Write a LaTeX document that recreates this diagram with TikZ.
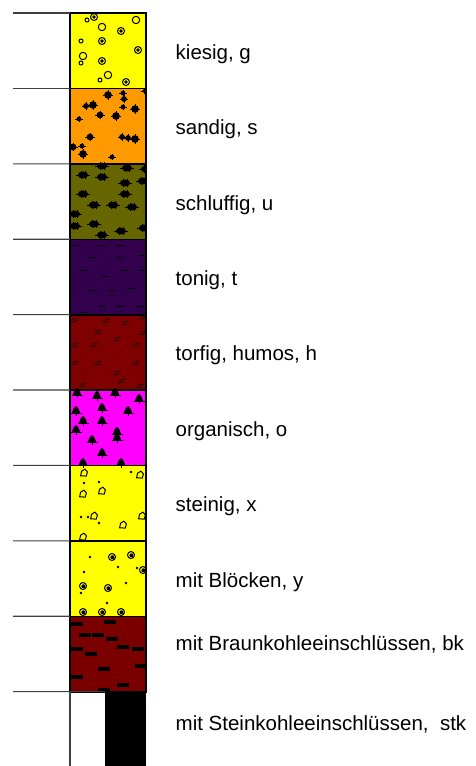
\documentclass[tikz,border=0pt]{standalone}
\usepackage{fontspec}
\setmainfont{Liberation Sans}
\definecolor{cKies}{HTML}{FFFF00}
\definecolor{cSand}{HTML}{FF9900}
\definecolor{cSchluff}{HTML}{666600}
\definecolor{cTon}{HTML}{33004D}
\definecolor{cTorf}{HTML}{7F0000}
\definecolor{cOrg}{HTML}{FF00FF}
\definecolor{cBk}{HTML}{7A0000}
\begin{document}
\begin{tikzpicture}[x=1pt,y=-1pt,
  layer/.style={inner sep=0pt,minimum width=75.5pt,minimum height=75.4pt,anchor=north west},
  border/.style={draw=black,line width=1.3pt},
  lab/.style={anchor=base west,inner sep=0pt,font=\fontsize{20.5}{24}\selectfont},
  sep/.style={draw=black!75,line width=1.1pt},
  sym/.style={line width=1pt}]
\useasboundingbox (0,0) rectangle (476,766);

% layers
\node[layer,fill=cKies] (r1) at (70,13) {};
\node[layer,fill=cSand] (r2) at (70,88.4) {};
\node[layer,fill=cSchluff] (r3) at (70,163.8) {};
\node[layer,fill=cTon] (r4) at (70,239.2) {};
\node[layer,fill=cTorf] (r5) at (70,314.6) {};
\node[layer,fill=cOrg] (r6) at (70,390) {};
\node[layer,fill=cKies] (r7) at (70,465.4) {};
\node[layer,fill=cKies] (r8) at (70,540.8) {};
\node[layer,fill=cBk] (r9) at (70,616.2) {};
\node[inner sep=0pt,minimum width=40.5pt,minimum height=74.4pt,anchor=north west,fill=black] (r10) at (105,691.6) {};

% patterns
\begin{scope}
\clip (r1.north west) rectangle (r9.south east);
% kiesig
\foreach \x/\y/\r in {87/20/2,136/20/3.7,102/27/3.7,81/41/2,83/56/3.7,81/63/2,108/75/3.7,100/80/2}
  \draw[sym] (\x,\y) circle (\r);
\foreach \x/\y in {94/17,121/31,102/41,138/50,102/61,126/82}
  {\draw[sym] (\x,\y) circle (3.5); \fill (\x,\y) circle (1.9);}
% sandig
\foreach \x/\y/\r in {108/95/3.8,123/93/2.4,124/99/2.9,144/91/1.8,93/105/3.8,86/106/2.9,123/107/2.4,135/109/3.8,100/115/3.4,116/116/3.8,79/119/2.4,90/137/3.4,122/137/2.9,128/138/2.9,135/139/3.8,73/147/3.4,82/146/2.4,83/154/3.8,112/157/2.4}
  {\fill (\x,\y) circle (\r);
   \draw[line width=0.6pt] ({\x-\r-1.2},\y) -- ({\x+\r+1.2},\y);
   \draw[line width=0.6pt] (\x,{\y-\r-0.8}) -- (\x,{\y+\r+0.8});}
% schluffig
\foreach \x/\y in {102/166,127/168,146/169,83/175,102/177,125/183,143/181,83/194,125/194,94/205,113/205,132/207,75/214,75/226,94/224,121/231,102/235,144/228}
  {\fill (\x,\y) ellipse [x radius=5.2, y radius=3.4];
   \draw[line width=0.6pt] ({\x-6.6},\y) -- ({\x+6.6},\y);
   \draw[line width=0.6pt] ({\x-2},{\y-4.2}) -- ({\x-2},{\y+4.2});
   \draw[line width=0.6pt] ({\x+2},{\y-4.2}) -- ({\x+2},{\y+4.2});}
% tonig
\foreach \x/\y in {75/245,102/245,121/245,142/255,93/257,121/257,83/270,125/270,143/270,106/276,93/290,112/290,131/288,102/306,121/306,140/306,83/312}
  \draw[line width=0.8pt] ({\x-3.8},\y) -- ({\x+3.8},\y);
% torfig
\foreach \x/\y in {75/320,106/321,125/323,143/317,98/332,143/333,117/339,75/345,94/345,136/345,98/363,75/363,136/363,117/373,122/381,83/385,140/386}
  {\draw[line width=0.7pt] ({\x-2.5},{\y-0.6}) -- ({\x+3.5},{\y-1.9});
   \draw[line width=0.7pt] ({\x-3.5},{\y+1.9}) -- ({\x+2.5},{\y+0.6});}
% organisch
\foreach \x/\y in {77/393,97/396,115/393,139/399,102/408,76/411,128/411,83/421,102/421,76/430,117/432,117/438,92/440,102/453,83/463,121/463}
  {\fill ({\x-4.3},{\y+2.5}) .. controls ({\x-3.2},{\y-1}) and ({\x-1.6},{\y-4.8}) .. (\x,{\y-4.8})
      .. controls ({\x+1.6},{\y-4.8}) and ({\x+3.2},{\y-1}) .. ({\x+4.3},{\y+2.5}) -- cycle;
   \draw[line width=0.6pt] ({\x-5.5},{\y+2.5}) -- ({\x+5.5},{\y+2.5});
   \draw[line width=0.6pt] (\x,{\y+2.5}) -- (\x,{\y+4.5});}
% steinig
\foreach \x/\y in {84/473,140/475,83/494,102/491,94/516,142/516,123/525,83/537}
  \draw[line width=1pt,line join=round] ({\x-3.4},{\y+2.8}) -- ({\x-2.5},{\y-1.7}) -- ({\x+0.9},{\y-3.9}) -- ({\x+3.4},{\y-1.1}) -- ({\x+2.3},{\y+3.1}) -- cycle;
\foreach \x/\y in {131/472,84/483,99/482,81/517,88/517,99/523}
  \fill (\x,\y) circle (1.3);
% mit Bloecken
\foreach \x/\y in {112/557,131/555,143/570,83/586,108/588,83/612,102/612,121/612}
  {\draw[line width=1pt] (\x,\y) circle (3.5);
   \fill ({\x+0.4},{\y+0.3}) circle (2);}
\foreach \x/\y in {90/557,118/567,137/568,84/572,81/593,126/583,107/603}
  \fill (\x,\y) circle (1.3);
% Braunkohle
\foreach \x/\y in {77/624,110/622,85/635,98/635,112/639,77/649,91/654,123/647,138/649,104/669,141/666,77/677,123/685,104/690}
  \fill ({\x-6.2},{\y-1.8}) rectangle ({\x+6.2},{\y+1.8});
\end{scope}

% borders
\foreach \i in {1,...,9}
  \draw[border] (r\i.north west) rectangle (r\i.south east);
\draw[sep] (r9.south west) -- (70,766) coordinate (bot);

% separator lines
\foreach \i in {1,...,10}
  \draw[sep] (13,{13+75.4*(\i-1)}) coordinate (s\i) -- (r\i.north west);

% labels
\node[lab] (l1) at (175.5,59.3) {kiesig, g};
\node[lab] (l2) at (175.5,134.7) {sandig, s};
\node[lab] (l3) at (175.5,210.1) {schluffig, u};
\node[lab] (l4) at (175.5,285.5) {tonig, t};
\node[lab] (l5) at (175.5,360.9) {torfig, humos, h};
\node[lab] (l6) at (175.5,436.3) {organisch, o};
\node[lab] (l7) at (175.5,511.7) {steinig, x};
\node[lab] (l8) at (175.5,587.1) {mit Blöcken, y};
\node[lab] (l9) at (175.5,650) {mit Braunkohleeinschlüssen, bk};
\node[lab] (l10) at (175.5,730) {mit Steinkohleeinschlüssen,\ \ stk};
\end{tikzpicture}
\end{document}
